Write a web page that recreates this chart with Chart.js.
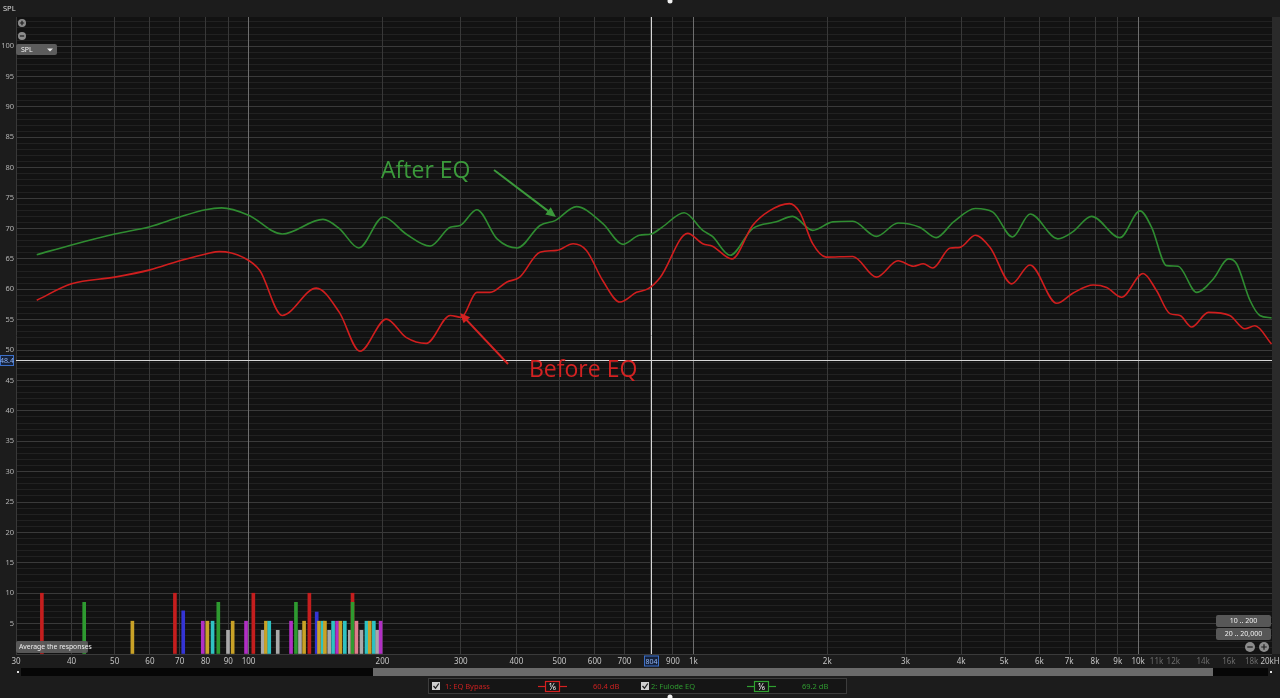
<!DOCTYPE html>
<html>
<head>
<meta charset="utf-8">
<script src="https://cdn.jsdelivr.net/npm/chart.js@4.4.1/dist/chart.umd.min.js"></script>
<style>
  html, body { margin: 0; padding: 0; background: #1c1c1c; overflow: hidden; }
  canvas { display: block; }
</style>
</head>
<body>
<canvas id="rewChart" width="1280" height="698" style="width:1280px;height:698px"></canvas>
<script>
// DATA -----------------------------------------------------------------------

// 1: EQ Bypass (before EQ), frequency in Hz / SPL in dB
const beforeFreq = [33.4, 40, 50, 60, 70, 81, 86, 97, 106, 119, 142, 160, 178, 204, 226, 251, 284, 301, 326, 349,
    381, 407, 452, 493, 537, 575, 626, 684, 745, 792, 843, 971, 1050, 1104, 1221, 1359, 1482, 1644, 1734, 1855,
    1988, 2284, 2580, 2886, 3127, 3289, 3454, 3780, 3977, 4306, 4644, 5196, 5714, 6560, 7146, 7926, 8497, 9180,
    10260, 10997, 11790, 12420, 13190, 14390, 16070, 17390, 18310, 19950]
const beforeSpl = [58.2, 60.9, 62.0, 63.2, 64.7, 65.9, 66.2, 65.3, 63.1, 55.7, 60.2, 56.2, 49.8, 55.1, 52.1, 51.1, 55.7, 55.4, 59.5, 59.5,
    61.2, 62.0, 66.1, 66.4, 67.5, 66.4, 61.4, 57.9, 59.5, 60.1, 62.0, 69.2, 67.5, 67.1, 65.0, 70.5, 72.9, 74.1, 72.7, 67.5,
    65.3, 65.4, 62.0, 64.7, 63.8, 64.2, 63.5, 66.8, 66.9, 68.9, 66.9, 60.9, 64.0, 57.7, 59.4, 60.7, 60.3, 58.7,
    62.6, 59.8, 56.0, 55.7, 53.8, 56.2, 55.7, 53.5, 54.0, 51.0]

// 2: Fulode EQ (after EQ)
const afterFreq = [33.4, 40, 50, 60, 70, 80, 87, 100, 119, 147, 160, 177, 201, 226, 256, 284, 299, 326, 362, 402,
    452, 489, 546, 626, 695, 756, 804, 850, 954, 1050, 1104, 1209, 1359, 1536, 1671, 1855, 2058, 2284, 2580, 2886,
    3228, 3515, 3847, 4306, 4716, 5220, 5718, 6600, 7113, 7860, 9100, 10100, 10725, 11590, 12300, 13540, 14760,
    15950, 16650, 17840, 18780, 19950]
const afterSpl = [65.7, 67.3, 69.1, 70.3, 71.9, 73.1, 73.4, 72.2, 69.1, 71.5, 70.0, 66.8, 71.9, 69.1, 67.1, 70.2, 70.5, 73.1, 68.3, 66.8,
    70.5, 71.3, 73.6, 70.8, 67.4, 68.9, 69.1, 70.2, 72.6, 69.7, 68.7, 65.6, 70.0, 71.1, 72.0, 69.7, 71.1, 71.2, 68.7, 70.9,
    70.2, 68.5, 71.1, 73.3, 72.7, 68.6, 72.4, 68.3, 69.4, 72.0, 68.5, 72.9, 70.2, 63.9, 63.8, 59.5, 61.7,
    65.0, 64.2, 58.2, 55.7, 55.3]

// EQ filter markers along the bottom
const markerFreq = [34.3, 42.7, 54.8, 68.3, 71.3, 78.9, 80.8, 83.0, 85.5, 89.9, 92.1, 98.7, 102.5, 107.6, 109.4,
    111.3, 116.3, 124.6, 127.8, 130.5, 133.3, 137, 142.3, 144.0, 146.8, 148.5, 151.8, 154.9, 158.1, 160.9,
    164.6, 168.9, 171.3, 171.3, 174.8, 179.4, 184.1, 187.3, 191.3, 194.6, 198.1]
const markerLevel = [10, 8.5, 5.4, 10, 7.1, 5.4, 5.4, 5.4, 8.5, 3.9, 5.4, 5.4, 10, 3.9, 5.4,
    5.4, 3.9, 5.4, 8.5, 3.9, 5.4, 10, 6.9, 5.4, 5.4, 5.4, 3.9, 5.4, 5.4, 5.4,
    5.4, 3.9, 10, 8.5, 5.4, 3.9, 5.4, 5.4, 5.4, 3.9, 5.4]
const markerKind = ['red', 'green', 'yellow', 'red', 'blue', 'magenta', 'yellow', 'cyan', 'green', 'grey', 'yellow', 'magenta', 'red', 'grey', 'yellow',
    'cyan', 'grey', 'magenta', 'green', 'grey', 'yellow', 'red', 'blue', 'yellow', 'cyan', 'yellow', 'grey', 'cyan', 'magenta', 'yellow',
    'cyan', 'grey', 'red', 'green', 'pink', 'grey', 'cyan', 'yellow', 'cyan', 'grey', 'magenta']

const xTickValues = [30, 40, 50, 60, 70, 80, 90, 100, 200, 300, 400, 500, 600, 700, 800, 900, 1000,
    2000, 3000, 4000, 5000, 6000, 7000, 8000, 9000, 10000, 11000, 12000, 14000, 16000, 18000, 20000]

const cursorFreq = 804
const cursorSpl = 48.4
const cursorLabels = ['60.4 dB', '69.2 dB']

// SETTINGS -------------------------------------------------------------------

const palette = {
    red: '#c41e1e', green: '#2e9a30', yellow: '#c9a227', blue: '#3434d4',
    magenta: '#b12fc4', cyan: '#2fc2c2', grey: '#a9a9a9', pink: '#e07c8c'
}
const beforeColor = '#d01e1e'
const afterColor = '#2f8c31'
const uiFont = '"Noto Sans", "Liberation Sans", sans-serif'

// HELPER FUNCTIONS -----------------------------------------------------------

function toPoints(xs, ys) {
    return xs.map((x, i) => ({x: x, y: ys[i]}))
}

function freqLabel(v) {
    if (v === 800) return ''
    if (v === 20000) return '20kHz'
    if (v >= 1000) return `${v / 1000}k`
    return `${v}`
}

function roundRect(ctx, x, y, w, h, r, fill, stroke) {
    ctx.beginPath()
    ctx.roundRect(x, y, w, h, r)
    if (fill) { ctx.fillStyle = fill; ctx.fill() }
    if (stroke) { ctx.strokeStyle = stroke; ctx.lineWidth = 1; ctx.stroke() }
}

function text(ctx, str, x, y, color, size, align = 'left') {
    ctx.fillStyle = color
    ctx.font = `${size}px ${uiFont}`
    ctx.textAlign = align
    ctx.textBaseline = 'middle'
    ctx.fillText(str, x, y)
}

function arrow(ctx, x1, y1, x2, y2, color) {
    const a = Math.atan2(y2 - y1, x2 - x1)
    ctx.strokeStyle = color
    ctx.fillStyle = color
    ctx.lineWidth = 2
    ctx.beginPath()
    ctx.moveTo(x1, y1)
    ctx.lineTo(x2 - 6 * Math.cos(a), y2 - 6 * Math.sin(a))
    ctx.stroke()
    ctx.beginPath()
    ctx.moveTo(x2, y2)
    ctx.lineTo(x2 - 10 * Math.cos(a) + 4.5 * Math.sin(a), y2 - 10 * Math.sin(a) - 4.5 * Math.cos(a))
    ctx.lineTo(x2 - 10 * Math.cos(a) - 4.5 * Math.sin(a), y2 - 10 * Math.sin(a) + 4.5 * Math.cos(a))
    ctx.closePath()
    ctx.fill()
}

function circleButton(ctx, x, y, r, sign) {
    ctx.beginPath()
    ctx.arc(x, y, r, 0, Math.PI * 2)
    ctx.fillStyle = '#8c8c8c'
    ctx.fill()
    ctx.strokeStyle = '#1c1c1c'
    ctx.lineWidth = 1.2
    ctx.beginPath()
    ctx.moveTo(x - r * 0.55, y); ctx.lineTo(x + r * 0.55, y)
    if (sign === '+') { ctx.moveTo(x, y - r * 0.55); ctx.lineTo(x, y + r * 0.55) }
    ctx.stroke()
}

function checkbox(ctx, x, y) {
    ctx.fillStyle = '#cfcfcf'
    ctx.fillRect(x, y, 8, 8)
    ctx.strokeStyle = '#222'
    ctx.lineWidth = 1.3
    ctx.beginPath()
    ctx.moveTo(x + 1.5, y + 4); ctx.lineTo(x + 3.5, y + 6.3); ctx.lineTo(x + 6.8, y + 1.5)
    ctx.stroke()
}

function traceSymbol(ctx, x, y, color) {
    ctx.strokeStyle = color
    ctx.lineWidth = 1.2
    ctx.beginPath()
    ctx.moveTo(x, y); ctx.lineTo(x + 29, y)
    ctx.stroke()
    ctx.fillStyle = '#151515'
    ctx.fillRect(x + 7, y - 5.5, 15, 11)
    ctx.strokeRect(x + 7.5, y - 5, 14, 10)
    text(ctx, '⅙', x + 14.5, y + 0.5, '#e8e8e8', 9, 'center')
}

function valueBox(ctx, str, cx, cy, w) {
    ctx.fillStyle = '#16223a'
    ctx.fillRect(cx - w / 2, cy - 5.5, w, 11)
    ctx.strokeStyle = '#3b6fc8'
    ctx.lineWidth = 1
    ctx.strokeRect(cx - w / 2 + 0.5, cy - 5, w - 1, 10)
    text(ctx, str, cx, cy + 0.5, '#8fb3f2', 7, 'center')
}

// PLUGIN ---------------------------------------------------------------------

const rewDecorations = {
    id: 'rewDecorations',
    beforeDraw(chart) {
        const {ctx, chartArea: a} = chart
        ctx.save()
        ctx.fillStyle = '#1c1c1c'
        ctx.fillRect(0, 0, chart.width, chart.height)
        ctx.fillStyle = '#121212'
        ctx.fillRect(a.left, a.top, a.right - a.left, a.bottom - a.top)
        ctx.restore()
    },
    beforeDatasetsDraw(chart) {
        const {ctx, chartArea: a, scales} = chart
        const cx = Math.round(scales.x.getPixelForValue(cursorFreq)) + 0.5
        const cy = Math.round(scales.y.getPixelForValue(cursorSpl)) + 0.5
        ctx.save()
        ctx.strokeStyle = '#d6d6d6'
        ctx.lineWidth = 1
        ctx.beginPath()
        ctx.moveTo(cx, a.top); ctx.lineTo(cx, a.bottom)
        ctx.moveTo(a.left, cy); ctx.lineTo(a.right, cy)
        ctx.stroke()
        ctx.restore()
    },
    afterDraw(chart) {
        const {ctx, chartArea: a, scales} = chart
        ctx.save()

        // right edge strip and top header
        ctx.fillStyle = '#2a2a2a'
        ctx.fillRect(a.right, a.top, chart.width - a.right, a.bottom - a.top)
        text(ctx, 'SPL', 3, 9, '#dcdcdc', 7.5)
        ctx.fillStyle = '#f0f0f0'
        ctx.beginPath(); ctx.arc(670, 1, 2.5, 0, Math.PI * 2); ctx.fill()

        // zoom icons + SPL dropdown
        circleButton(ctx, 22, 23, 4, '+')
        circleButton(ctx, 22, 36, 4, '-')
        roundRect(ctx, 16, 44, 41, 11, 2, '#5c5c5c')
        text(ctx, 'SPL', 21, 50, '#f0f0f0', 7)
        ctx.fillStyle = '#e8e8e8'
        ctx.beginPath(); ctx.moveTo(47, 48.5); ctx.lineTo(53, 48.5); ctx.lineTo(50, 51.5); ctx.closePath(); ctx.fill()

        // annotations
        ctx.font = `23px "Open Sans", ${uiFont}`
        ctx.textAlign = 'left'
        ctx.textBaseline = 'middle'
        ctx.fillStyle = '#3b9a3b'
        ctx.fillText('After EQ', 381, 171)
        ctx.fillStyle = '#d42222'
        ctx.fillText('Before EQ', 529, 370)
        arrow(ctx, 494, 170, 556, 217, '#3b9a3b')
        arrow(ctx, 508, 364, 460, 313, '#d42222')

        // cursor value boxes
        valueBox(ctx, `${cursorSpl}`, 7, Math.round(scales.y.getPixelForValue(cursorSpl)) + 0.5, 14)
        valueBox(ctx, `${cursorFreq}`, Math.round(scales.x.getPixelForValue(cursorFreq)) + 0.5, 661, 15)

        // buttons in the plot
        roundRect(ctx, 16, 641, 72, 12, 2, 'rgba(92,92,92,0.95)')
        text(ctx, 'Average the responses', 19, 647, '#f0f0f0', 6.8)
        roundRect(ctx, 1216, 615, 55, 12, 2, '#575757')
        text(ctx, '10 .. 200', 1243.5, 621, '#f0f0f0', 7, 'center')
        roundRect(ctx, 1216, 628, 55, 12, 2, '#575757')
        text(ctx, '20 .. 20,000', 1243.5, 634, '#f0f0f0', 7, 'center')
        circleButton(ctx, 1250, 647, 5, '-')
        circleButton(ctx, 1264, 647, 5, '+')

        // scroll bar
        ctx.fillStyle = '#060606'
        ctx.fillRect(21, 668, 1247, 8)
        ctx.fillStyle = '#6a6a6a'
        ctx.fillRect(373, 668, 840, 8)
        ctx.fillStyle = '#e0e0e0'
        ctx.fillRect(17, 671, 2, 2)
        ctx.fillRect(1270, 671, 2, 2)

        // legend
        ctx.fillStyle = '#151515'
        ctx.fillRect(428, 678, 419, 16)
        ctx.strokeStyle = '#3c3c3c'
        ctx.lineWidth = 1
        ctx.strokeRect(428.5, 678.5, 418, 15)
        checkbox(ctx, 432, 682)
        text(ctx, '1: EQ Bypass', 445, 686.5, '#c82020', 7.5)
        traceSymbol(ctx, 538, 686.5, '#d42020')
        text(ctx, cursorLabels[0], 593, 686.5, '#c82020', 7.5)
        checkbox(ctx, 641, 682)
        text(ctx, '2: Fulode EQ', 651, 686.5, '#2f9a30', 7.5)
        traceSymbol(ctx, 747, 686.5, '#2fa030')
        text(ctx, cursorLabels[1], 802, 686.5, '#2f9a30', 7.5)
        ctx.fillStyle = '#f0f0f0'
        ctx.beginPath(); ctx.arc(670, 697, 2.5, 0, Math.PI * 2); ctx.fill()

        ctx.restore()
    }
}

// CHART ----------------------------------------------------------------------

new Chart(document.getElementById('rewChart'), {
    type: 'line',
    data: {
        datasets: [
            {
                label: '1: EQ Bypass',
                data: toPoints(beforeFreq, beforeSpl),
                borderColor: beforeColor,
                borderWidth: 1.6,
                pointRadius: 0,
                cubicInterpolationMode: 'monotone',
                order: 1
            },
            {
                label: '2: Fulode EQ',
                data: toPoints(afterFreq, afterSpl),
                borderColor: afterColor,
                borderWidth: 1.6,
                pointRadius: 0,
                cubicInterpolationMode: 'monotone',
                order: 2
            },
            {
                type: 'bar',
                label: 'EQ filters',
                data: toPoints(markerFreq, markerLevel),
                backgroundColor: markerKind.map(k => palette[k]),
                barThickness: 3,
                order: 3
            }
        ]
    },
    options: {
        responsive: false,
        animation: false,
        devicePixelRatio: 1,
        layout: {padding: {left: 0, right: 8, top: 17, bottom: 0}},
        plugins: {
            legend: {display: false},
            tooltip: {enabled: false}
        },
        scales: {
            x: {
                type: 'logarithmic',
                min: 30,
                max: 20000,
                offset: false,
                border: {display: false},
                afterBuildTicks: (scale) => { scale.ticks = xTickValues.map(v => ({value: v})) },
                afterFit: (scale) => { scale.height = 44; scale.paddingLeft = 0; scale.paddingRight = 0 },
                grid: {
                    z: -1,
                    drawTicks: false,
                    offset: false,
                    color: (c) => {
                        const v = c.tick && c.tick.value
                        if (v === 100 || v === 1000 || v === 10000) return '#6e6e6e'
                        if (v > 10000) return 'rgba(0,0,0,0)'
                        return '#383838'
                    }
                },
                ticks: {
                    autoSkip: false,
                    maxRotation: 0,
                    padding: 3,
                    font: {family: uiFont, size: 8},
                    color: (c) => (c.tick && c.tick.value > 10000 && c.tick.value < 20000) ? '#6c6c6c' : '#c4c4c4',
                    callback: (v) => freqLabel(v)
                }
            },
            y: {
                type: 'linear',
                min: 0,
                max: 104.8,
                border: {display: false},
                afterBuildTicks: (scale) => {
                    const ticks = []
                    for (let v = 0; v <= 104; v++) ticks.push({value: v})
                    scale.ticks = ticks
                },
                afterFit: (scale) => { scale.width = 16; scale.paddingTop = 0; scale.paddingBottom = 0 },
                grid: {
                    z: -2,
                    drawTicks: false,
                    color: (c) => (c.tick && c.tick.value % 5 === 0) ? '#3a3a3a' : '#212121'
                },
                ticks: {
                    autoSkip: false,
                    padding: 2,
                    font: {family: uiFont, size: 7.5},
                    color: '#b4b4b4',
                    callback: (v) => (v % 5 === 0 && v > 0) ? `${v}` : ''
                }
            }
        }
    },
    plugins: [rewDecorations]
})
</script>
</body>
</html>
